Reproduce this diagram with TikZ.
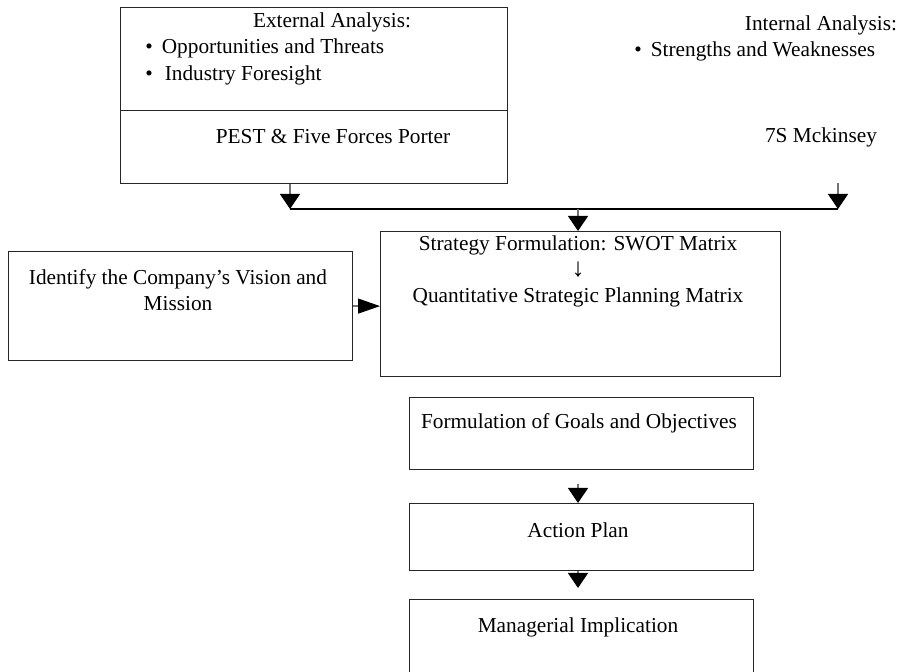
\documentclass[tikz,border=0pt]{standalone}
\usepackage{fontspec}
\setmainfont{Liberation Serif}
\usetikzlibrary{arrows.meta,positioning}

\begin{document}
\begin{tikzpicture}[
  x=0.5pt,y=-0.5pt,
  frame/.style={draw=black!85,line width=0.6pt,anchor=north west,inner sep=0pt},
  txt/.style={inner sep=0pt,align=center,font=\fontsize{10.65pt}{13pt}\selectfont},
  item/.style={txt,anchor=west},
  link/.style={draw=black!55,line width=0.6pt,-{Triangle[length=7.5pt,width=10pt,color=black]}},
  hlink/.style={draw=black!55,line width=0.6pt,-{Triangle[length=11pt,width=7.5pt,color=black]}},
  bus/.style={draw=black,line width=0.6pt}
]
\useasboundingbox (0,0) rectangle (900,672);
\clip (0,0) rectangle (900,672);

% boxes
\node[frame,minimum width=193.5pt,minimum height=51.5pt] (ext) at (120,7) {};
\node[frame,minimum width=193.5pt,minimum height=36.5pt] (pest) at (120,110) {};
\node[frame,minimum width=172pt,minimum height=54.5pt] (idn) at (8,251) {};
\node[frame,minimum width=200pt,minimum height=72.5pt] (swot) at (380,231) {};
\node[frame,minimum width=172pt,minimum height=36pt] (goals) at (409,397) {};
\node[frame,minimum width=172pt,minimum height=33.5pt] (action) at (409,503) {};
\node[frame,minimum width=172pt,minimum height=60pt] (manag) at (409,599) {};

% texts
\node[txt] (extT) at (332,22) {External Analysis:};
\node[item] (ext1) at (145,48) {\textbullet\hspace{4.5pt}Opportunities and Threats};
\node[item] (ext2) at (145,75) {\textbullet\hspace{6pt}Industry Foresight};
\node[txt] (pestT) at (333,137) {PEST \& Five Forces Porter};
\node[txt] (intT) at (821,25) {Internal Analysis:};
\node[item] (int1) at (634,51) {\textbullet\hspace{4.5pt}Strengths and Weaknesses};
\node[txt] (mck) at (821,137) {7S Mckinsey};
\node[txt] (idnT) at (178,290) {Identify the Company’s Vision and\\Mission};
\node[txt] (swotT) at (578,271) {Strategy Formulation: SWOT Matrix\\{\fontsize{13pt}{13pt}\selectfont ↓}\\Quantitative Strategic Planning Matrix};
\node[txt] (goalsT) at (579,423) {Formulation of Goals and Objectives};
\node[txt] (actionT) at (578,530) {Action Plan};
\node[txt] (managT) at (578,627) {Managerial Implication};

% connectors
\coordinate (jl) at (290,209);
\coordinate (jm) at (578,209);
\coordinate (jr) at (838,209);
\coordinate (intbot) at (838,183);
\draw[link] (pest.south -| jl) -- (jl);
\draw[link] (intbot) -- (jr);
\draw[bus] (jl) -- (jr);
\draw[link] (jm) -- (jm |- swot.north);
\draw[hlink] (idn.east) -- (idn.east -| swot.west);
\draw[link,shorten <=7pt] (goals.south -| jm) -- (action.north -| jm);
\draw[link,shorten >=5.5pt] (action.south -| jm) -- (manag.north -| jm);
\end{tikzpicture}
\end{document}
